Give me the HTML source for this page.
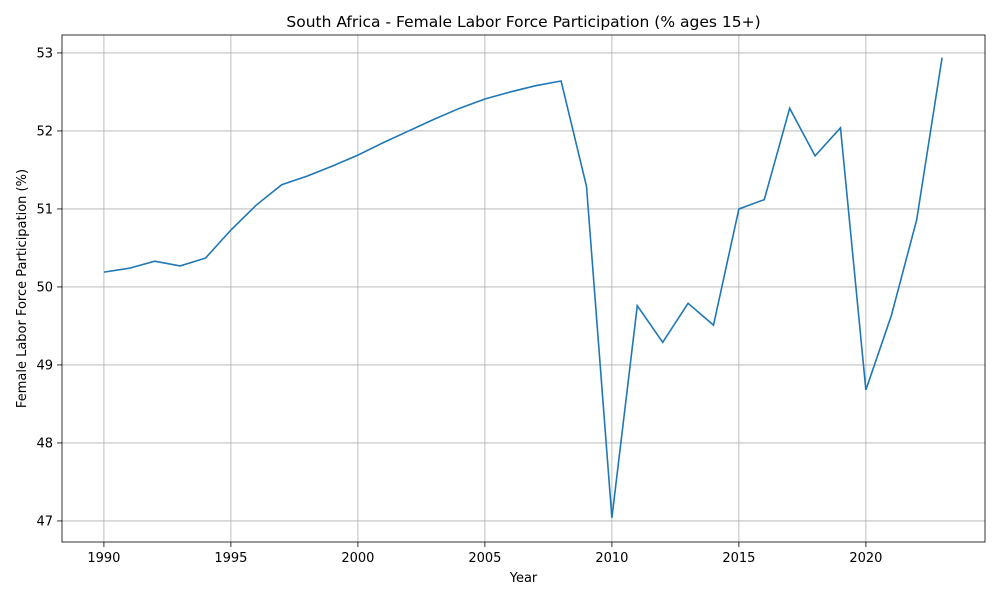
<!DOCTYPE html>
<html><head><meta charset="utf-8"><style>
body{margin:0;background:#fff;font-family:"Liberation Sans","DejaVu Sans",sans-serif;}
svg text{font-family:"DejaVu Sans","Liberation Sans",sans-serif;fill:#000;}
</style></head><body>
<svg id="chart" width="1000" height="600" xmlns="http://www.w3.org/2000/svg"></svg>
<script>
const years = [1990,1991,1992,1993,1994,1995,1996,1997,1998,1999,2000,2001,2002,2003,2004,2005,2006,2007,2008,2009,2010,2011,2012,2013,2014,2015,2016,2017,2018,2019,2020,2021,2022,2023];
const values = [50.19,50.24,50.33,50.27,50.37,50.73,51.05,51.31,51.42,51.55,51.69,51.85,52.00,52.15,52.29,52.41,52.50,52.58,52.64,51.29,47.04,49.76,49.29,49.79,49.51,51.00,51.12,52.29,51.68,52.04,48.68,49.63,50.86,52.94];
const xTicks = [1990,1995,2000,2005,2010,2015,2020];
const yTicks = [47,48,49,50,51,52,53];
const L=62,R=985,T=35,B=542;
const xMin=1988.35,xMax=2024.69,yMin=46.73,yMax=53.23;
const X=v=>L+(v-xMin)/(xMax-xMin)*(R-L);
const Y=v=>B-(v-yMin)/(yMax-yMin)*(B-T);
const svg=document.getElementById('chart');
const NS='http://www.w3.org/2000/svg';
function mk(tag,attrs,parent){const e=document.createElementNS(NS,tag);for(const k in attrs)e.setAttribute(k,attrs[k]);(parent||svg).appendChild(e);return e;}
const grid=mk('g',{});


xTicks.forEach(t=>{
  mk('line',{x1:X(t),x2:X(t),y1:T,y2:B,stroke:'#b0b0b0','stroke-width':0.8},grid);
  mk('line',{x1:X(t),x2:X(t),y1:B,y2:B+5,stroke:'#000','stroke-width':0.8});
  const tx=mk('text',{x:X(t),y:B+20,'text-anchor':'middle','font-size':13});
  tx.textContent=t;
  
  
});
yTicks.forEach(t=>{
  mk('line',{x1:L,x2:R,y1:Y(t),y2:Y(t),stroke:'#b0b0b0','stroke-width':0.8},grid);
  mk('line',{x1:L-5,x2:L,y1:Y(t),y2:Y(t),stroke:'#000','stroke-width':0.8});
  const tx=mk('text',{x:L-9,y:Y(t)+4.5,'text-anchor':'end','font-size':13});
  tx.textContent=t;
  
  
});
const line=mk('polyline',{points:years.map((y,i)=>X(y)+','+Y(values[i])).join(' '),fill:'none',stroke:'#1f77b4','stroke-width':1.6});


const frame=mk('rect',{x:L,y:T,width:R-L,height:B-T,fill:'none',stroke:'#000','stroke-width':0.8});


const title=mk('text',{x:(L+R)/2,y:27,'text-anchor':'middle','font-size':15.5});
title.textContent='South Africa - Female Labor Force Participation (% ages 15+)';


const xl=mk('text',{x:(L+R)/2,y:582,'text-anchor':'middle','font-size':13});
xl.textContent='Year';


const yl=mk('text',{x:0,y:0,'text-anchor':'middle','font-size':13,transform:'translate(26,'+((T+B)/2)+') rotate(-90)'});
yl.textContent='Female Labor Force Participation (%)';


</script>
</body></html>
